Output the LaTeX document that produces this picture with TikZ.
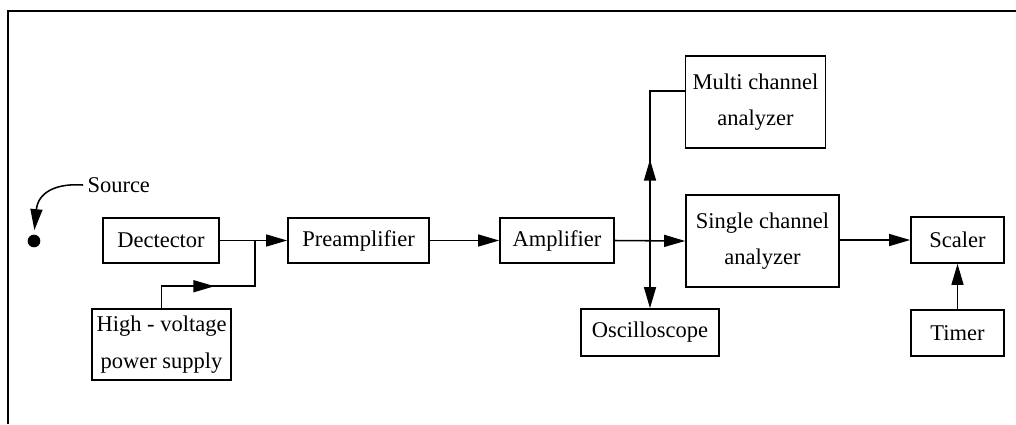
\documentclass[tikz,border=0pt]{standalone}
\usepackage{fontspec}
\setmainfont{Liberation Serif}
\usetikzlibrary{arrows.meta, positioning, calc, decorations.markings}

\tikzset{
  blk/.style={draw, line width=1.1pt, align=center, inner sep=0pt,
    font=\fontsize{16}{26}\selectfont},
  link/.style={line width=1.1pt},
  tri/.style={-{Triangle[length=15pt, width=8.5pt]}},
  midtri/.style={postaction={decorate}, decoration={markings,
    mark=at position #1 with {\arrow{Triangle[length=15pt, width=8.5pt]}}}}
}

\begin{document}
\begin{tikzpicture}[x=0.025cm, y=-0.025cm]
  \useasboundingbox (0,0) rectangle (1016,424);

  % outer frame (cut off right and bottom)
  \draw[line width=2pt] (8,424) -- (8,11) -- (1016,11);

  % blocks
  \node[blk, minimum width=2.9cm, minimum height=1.125cm] (det) at (161,240.5) {Dectector};
  \node[blk, minimum width=3.475cm, minimum height=1.775cm] (hv) at (161.5,344.5) {High - voltage\\power supply};
  \node[blk, minimum width=3.525cm, minimum height=1.125cm] (pre) at (358.5,240.5) {Preamplifier};
  \node[blk, minimum width=2.85cm, minimum height=1.125cm] (amp) at (557,240.5) {Amplifier};
  \node[blk, minimum width=3.5cm, minimum height=2.3cm] (mca) at (755.5,102) {Multi channel\\analyzer};
  \node[blk, minimum width=3.825cm, minimum height=2.3cm] (sca) at (762.5,241) {Single channel\\analyzer};
  \node[blk, minimum width=3.45cm, minimum height=1.175cm] (osc) at (650,332.5) {Oscilloscope};
  \node[blk, minimum width=2.325cm, minimum height=1.15cm] (scl) at (957.5,240) {Scaler};
  \node[blk, minimum width=2.325cm, minimum height=1.15cm] (tmr) at (957.5,333) {Timer};

  % source
  \node[circle, fill, inner sep=0pt, minimum size=9pt] (dot) at (34,241) {};
  \node[anchor=west, inner xsep=3pt, inner ysep=0pt, font=\fontsize{16}{18}\selectfont] (srclbl) at (83,185) {Source};
  \draw[link, tri, shorten >=3pt] (srclbl.west) .. controls (55,183) and (38,193) .. (dot.north);

  % junctions
  \coordinate (jhv) at (255,240.5);
  \coordinate (jsig) at (osc.north |- amp.east);
  \coordinate (jmca) at ($(mca.west)+(0,-11)$);

  % signal chain
  \draw[link, tri] (det.east) -- (pre.west);
  \draw[link, midtri=1.875cm] (hv.north) -- ++(0,-22) -| (jhv);
  \draw[link, tri] (pre.east) -- (amp.west);
  \draw[link, tri] (amp.east) -- (sca.west);
  \draw[link, midtri=2.025cm] (jsig) -- (jsig |- jmca) -- (jmca);
  \draw[link, tri] (jsig) -- (osc.north);
  \draw[link, tri] (sca.east |- scl.west) -- (scl.west);
  \draw[link, tri] (tmr.north) -- (scl.south);
\end{tikzpicture}
\end{document}
